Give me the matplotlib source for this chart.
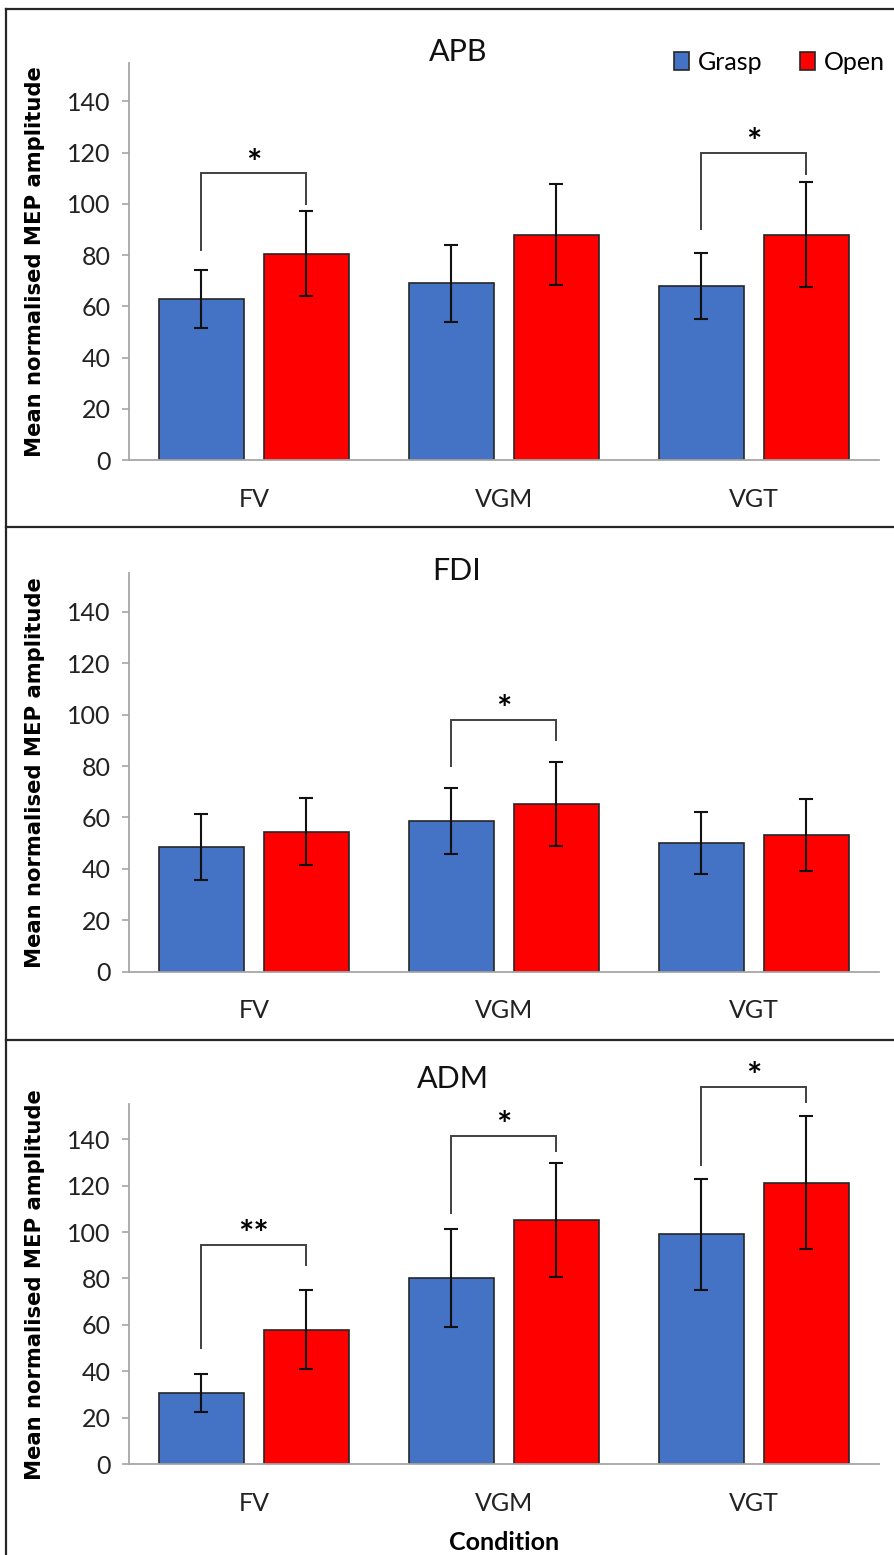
import matplotlib
matplotlib.use("Agg")
import matplotlib.pyplot as plt
from matplotlib.lines import Line2D
from matplotlib.patches import Patch
import numpy as np

# ---------------- data ----------------
conditions = ["FV", "VGM", "VGT"]
muscles = ["APB", "FDI", "ADM"]

grasp_mean = {"APB": [63.0, 69.0, 68.0], "FDI": [48.5, 58.6, 50.0], "ADM": [30.6, 80.3, 99.0]}
grasp_err = {"APB": [11.3, 15.0, 12.8], "FDI": [13.0, 12.7, 12.0], "ADM": [8.2, 21.0, 24.0]}
open_mean = {"APB": [80.5, 88.0, 88.0], "FDI": [54.4, 65.2, 53.0], "ADM": [58.0, 105.3, 121.3]}
open_err = {"APB": [16.6, 19.7, 20.4], "FDI": [13.0, 16.3, 14.0], "ADM": [17.0, 24.5, 28.5]}

# significance brackets: (condition index, bracket height, left leg bottom, right leg bottom, label)
brackets = {
    "APB": [(0, 112.0, 82.0, 100.0, "*"), (2, 120.0, 90.0, 111.7, "*")],
    "FDI": [(1, 98.0, 80.0, 90.0, "*")],
    "ADM": [(0, 94.4, 50.0, 85.6, "**"), (1, 141.4, 108.3, 135.0, "*"), (2, 162.5, 129.0, 156.0, "*")],
}

yticks = [0, 20, 40, 60, 80, 100, 120, 140]
series_names = ["Grasp", "Open"]

# ---------------- style ----------------
W, H = 895, 1555
DPI = 100
BLUE = "#4472C4"
RED = "#FF0000"
AXIS_GREY = "#A6A6A6"
FONT = "Lato"

plt.rcParams["font.family"] = [FONT, "DejaVu Sans"]

fig = plt.figure(figsize=(W / DPI, H / DPI), dpi=DPI)

def px(x):
    return x / W

def py(y):
    return 1 - y / H

left_px, right_px = 129, 879
panel_px = {"APB": (63.0, 460.0), "FDI": (573.3, 971.7), "ADM": (1104.3, 1464.3)}
title_px = {"APB": (458, 52), "FDI": (457, 571), "ADM": (453, 1079)}

bar_w = 0.34
offset = 0.21
x = np.arange(len(conditions))

for m in muscles:
    top, bot = panel_px[m]
    ax = fig.add_axes([px(left_px), py(bot), px(right_px - left_px), (bot - top) / H])
    ax.bar(x - offset, grasp_mean[m], bar_w, color=BLUE, edgecolor="#262626", linewidth=1.2, zorder=2)
    ax.bar(x + offset, open_mean[m], bar_w, color=RED, edgecolor="#262626", linewidth=1.2, zorder=2)
    ax.errorbar(x - offset, grasp_mean[m], yerr=grasp_err[m], fmt="none", ecolor="#111111",
                elinewidth=1.5, capsize=5, capthick=1.5, zorder=3)
    ax.errorbar(x + offset, open_mean[m], yerr=open_err[m], fmt="none", ecolor="#111111",
                elinewidth=1.5, capsize=5, capthick=1.5, zorder=3)

    for (ci, h, lb, rb, lab) in brackets[m]:
        xl, xr = ci - offset, ci + offset
        ax.plot([xl, xl, xr, xr], [lb, h, h, rb], color="#404040", linewidth=1.4,
                clip_on=False, zorder=4, solid_joinstyle="miter")
        ax.annotate(lab, xy=(ci, h), xytext=(0, -1),
                    textcoords="offset points", ha="center", va="baseline", fontsize=26,
                    fontweight="bold", color="black", annotation_clip=False)

    ax.set_xlim(-0.5, 2.5)
    ax.set_ylim(0, 155)
    ax.set_yticks(yticks)
    ax.set_xticks(x)
    ax.set_xticklabels(conditions)
    for s in ["top", "right"]:
        ax.spines[s].set_visible(False)
    for s in ["left", "bottom"]:
        ax.spines[s].set_color(AXIS_GREY)
        ax.spines[s].set_linewidth(1.3)
    ax.tick_params(axis="y", direction="out", length=5, width=1.2, color=AXIS_GREY,
                   labelsize=18, pad=8, labelcolor="#222222")
    ax.tick_params(axis="x", length=0, labelsize=18, pad=20, labelcolor="#222222")
    ax.set_ylabel("Mean normalised MEP amplitude", fontsize=15.2, fontweight="bold",
                  family="DejaVu Sans", color="black")
    ax.yaxis.set_label_coords((45 - left_px) / (right_px - left_px), 0.5)

    tx, ty = title_px[m]
    fig.text(px(tx), py(ty), m, ha="center", va="center", fontsize=22, color="#111111")

    if m == "ADM":
        fig.text(px(504), py(1543), "Condition", ha="center", va="center",
                 fontsize=18, fontweight="bold", color="black")

# legend
handles = [Patch(facecolor=BLUE, edgecolor="#262626", linewidth=1.2),
           Patch(facecolor=RED, edgecolor="#262626", linewidth=1.2)]
fig.legend(handles, series_names, loc="center left", bbox_to_anchor=(px(674), py(62)),
           ncol=2, frameon=False, fontsize=18, handlelength=0.6, handleheight=0.75,
           handletextpad=0.35, columnspacing=1.5, borderpad=0, borderaxespad=0)

# panel borders
lc = "#262626"
fig.add_artist(Line2D([px(6), px(6)], [py(9), py(1555)], color=lc, linewidth=1.6))
fig.add_artist(Line2D([px(6), 1], [py(9), py(9)], color=lc, linewidth=1.6))
fig.add_artist(Line2D([px(6), 1], [py(527), py(527)], color=lc, linewidth=1.6))
fig.add_artist(Line2D([px(6), 1], [py(1040), py(1040)], color=lc, linewidth=1.6))

fig.savefig("out.png", dpi=DPI)
